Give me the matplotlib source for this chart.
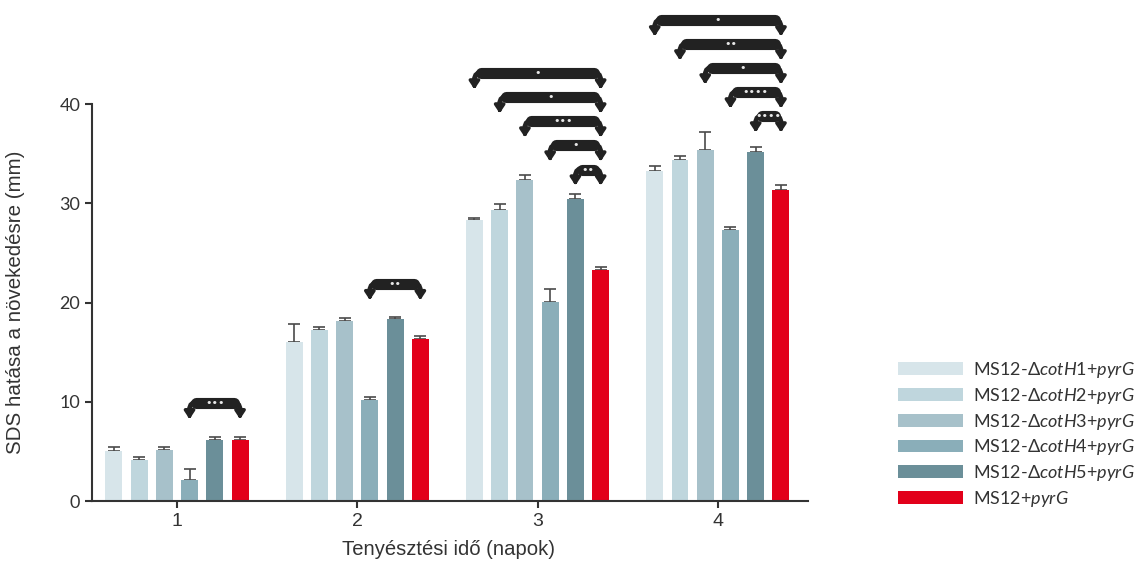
import matplotlib.pyplot as plt
import numpy as np
from matplotlib.path import Path
from matplotlib.patches import PathPatch

plt.rcParams['mathtext.fontset'] = 'custom'
plt.rcParams['mathtext.rm'] = 'Lato'
plt.rcParams['mathtext.it'] = 'Lato:italic'

# data
days = [1, 2, 3, 4]
strains = [r'MS12-$\mathit{ΔcotH1}$+$\mathit{pyrG}$',
           r'MS12-$\mathit{ΔcotH2}$+$\mathit{pyrG}$',
           r'MS12-$\mathit{ΔcotH3}$+$\mathit{pyrG}$',
           r'MS12-$\mathit{ΔcotH4}$+$\mathit{pyrG}$',
           r'MS12-$\mathit{ΔcotH5}$+$\mathit{pyrG}$',
           r'MS12+$\mathit{pyrG}$']
colors = ['#d7e5ea', '#bfd6dd', '#a7c1ca', '#8aaeb9', '#6b8f99', '#e2001a']

means = [
    [5.0, 16.0, 28.3, 33.3],   # H1
    [4.1, 17.2, 29.3, 34.4],   # H2
    [5.1, 18.1, 32.3, 35.4],   # H3
    [2.1, 10.2, 20.1, 27.3],   # H4
    [6.1, 18.3, 30.4, 35.2],   # H5
    [6.1, 16.3, 23.3, 31.3],   # MS12
]
errs = [
    [0.4, 1.8, 0.2, 0.5],
    [0.3, 0.3, 0.6, 0.4],
    [0.3, 0.3, 0.5, 1.8],
    [1.1, 0.3, 1.3, 0.3],
    [0.3, 0.2, 0.5, 0.5],
    [0.3, 0.3, 0.3, 0.5],
]

# significance brackets: (day index, first bar, second bar, stars)
sig_day = [0, 1, 2, 2, 2, 2, 2, 3, 3, 3, 3, 3]
sig_from = [3, 3, 4, 3, 2, 1, 0, 4, 3, 2, 1, 0]
sig_to = [5, 5, 5, 5, 5, 5, 5, 5, 5, 5, 5, 5]
sig_stars = [3, 2, 2, 1, 3, 1, 1, 4, 4, 1, 2, 1]

fig = plt.figure(figsize=(11.45, 5.64), dpi=100)
ax = fig.add_axes([92 / 1145, 63 / 564, 716 / 1145, 501 / 564])

step = 0.14
width = 0.094
x = np.array(days, dtype=float)
bar_x = {}
for i, (lab, col) in enumerate(zip(strains, colors)):
    xi = x + (i - 2.5) * step
    bar_x[i] = xi
    ax.bar(xi, means[i], width=width, color=col, label=lab, zorder=2)
    ax.errorbar(xi, means[i], yerr=[np.zeros(4), errs[i]], fmt='none',
                ecolor='#4a4a4a', elinewidth=1.2, capsize=4, capthick=1.2, zorder=1)

# bracket layout
base_h = [10.0, 22.0, 33.55, 38.9]
level_step = 2.42
level_count = [0, 0, 0, 0]
dark = '#222222'
for d, a, b, n in zip(sig_day, sig_from, sig_to, sig_stars):
    lvl = level_count[d]
    level_count[d] += 1
    yb = base_h[d] + lvl * level_step
    tip = yb - 1.75
    xa = bar_x[a][d]
    xb = bar_x[b][d]
    rx, ry = 0.05, 0.8
    verts = [(xa, tip + 0.5), (xa, yb - ry), (xa, yb), (xa + rx, yb),
             (xb - rx, yb), (xb, yb), (xb, yb - ry), (xb, tip + 0.5)]
    codes = [Path.MOVETO, Path.LINETO, Path.CURVE3, Path.CURVE3,
             Path.LINETO, Path.CURVE3, Path.CURVE3, Path.LINETO]
    ax.add_patch(PathPatch(Path(verts, codes), fill=False, lw=3.5,
                           edgecolor=dark, capstyle='butt', zorder=4))
    ax.plot([xa + rx * 0.7, xb - rx * 0.7], [yb - 0.15, yb - 0.15], lw=8,
            color=dark, solid_capstyle='round', zorder=4)
    for xx in (xa, xb):
        ax.annotate('', xy=(xx, tip), xytext=(xx, tip + 0.6),
                    arrowprops=dict(arrowstyle='-|>,head_width=0.3,head_length=0.45',
                                    lw=2.5, color=dark, shrinkA=0, shrinkB=0),
                    zorder=5)
    ax.text((xa + xb) / 2, yb - 0.15, '\u2022' * n, color='#e8e8e8',
            fontsize=8, ha='center', va='center', zorder=6,
            fontfamily='DejaVu Sans')

ax.set_xlim(0.529, 4.5)
ax.set_ylim(0, 50.48)
ax.set_yticks([0, 10, 20, 30, 40])
ax.set_xticks(days)
ax.spines['left'].set_bounds(0, 40)
ax.spines['top'].set_visible(False)
ax.spines['right'].set_visible(False)
for s in ('left', 'bottom'):
    ax.spines[s].set_color('#333333')
    ax.spines[s].set_linewidth(1.5)
ax.tick_params(colors='#333333', width=1.5, length=5)
for t in ax.get_yticklabels():
    t.set_fontfamily('Lato')
    t.set_fontsize(13)
for t in ax.get_xticklabels():
    t.set_fontfamily('Liberation Sans')
    t.set_fontsize(14)
ax.set_ylabel('SDS hatása a növekedésre (mm)', fontfamily='Liberation Sans',
              fontsize=14.8, color='#333333')
ax.yaxis.set_label_coords(-0.094, 20 / 50.48)
ax.set_xlabel('Tenyésztési idő (napok)', fontfamily='Liberation Sans',
              fontsize=14.6, color='#333333')
ax.xaxis.set_label_coords(0.498, -0.078)

fig.legend(loc='upper left', bbox_to_anchor=(889 / 1145, 1 - 351 / 564),
           frameon=False, prop={'family': 'Lato', 'size': 13},
           handlelength=3.6, handleheight=0.72, labelspacing=0.32,
           handletextpad=0.55, borderpad=0, labelcolor='#333333')

fig.savefig('out.png', dpi=100)
